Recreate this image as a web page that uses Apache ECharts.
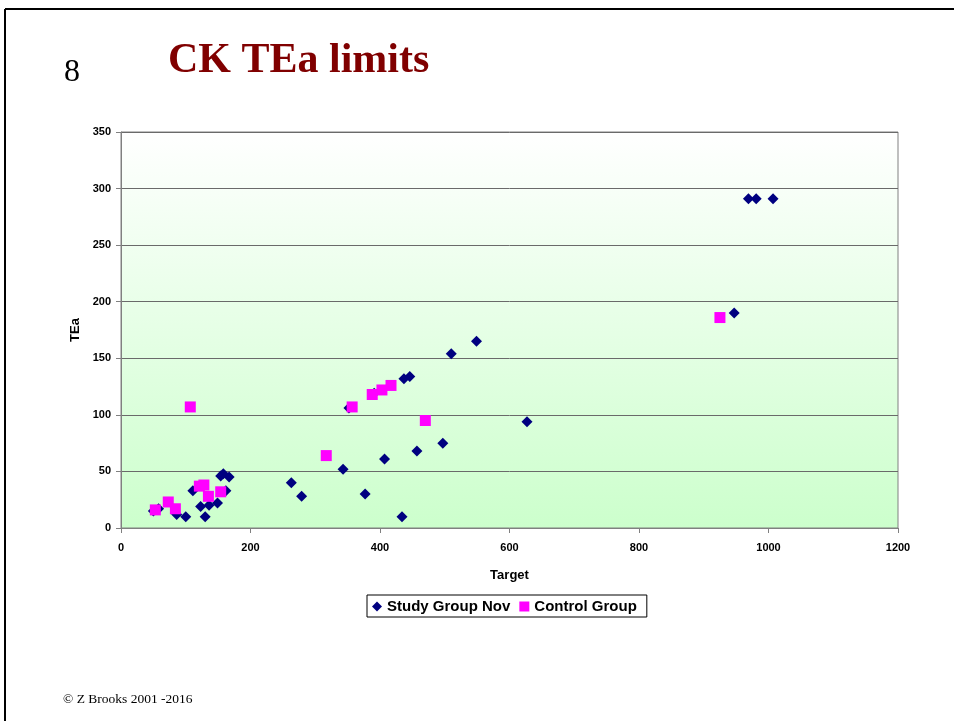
<!DOCTYPE html>
<html>
<head>
    <meta charset="utf-8">
    <title>CK TEa limits</title>
    <script src="https://cdn.jsdelivr.net/npm/echarts@6/dist/echarts.min.js"></script>
    <style>
        html, body { margin: 0; padding: 0; background: #fff; }
        #chart { width: 954px; height: 721px; }
    </style>
</head>
<body>
<div id="chart"></div>
<script type="text/javascript">
    // values: [Target, TEa]
    var studyGroup = [
        [50, 15], [58, 17], [86, 12], [100, 10], [111, 33], [123, 19], [130, 10],
        [136, 20], [149, 22], [154, 46], [158, 48], [162, 33], [167, 45],
        [263, 40], [279, 28], [343, 52], [352, 106], [377, 30], [391, 119],
        [407, 61], [434, 10], [437, 132], [446, 134], [457, 68], [497, 75],
        [510, 154], [549, 165], [627, 94], [947, 190], [969, 291], [981, 291], [1007, 291]
    ];
    var controlGroup = [
        [53, 16], [73, 23], [84, 17], [107, 107], [121, 37], [128, 38], [135, 28],
        [154, 32], [317, 64], [357, 107], [388, 118], [403, 122], [417, 126],
        [470, 95], [925, 186]
    ];
    var seriesNames = ['Study Group Nov', 'Control Group'];

    var myChart = echarts.init(document.getElementById('chart'));
    myChart.setOption({
        animation: false,
        backgroundColor: '#fff',
        textStyle: { fontFamily: 'Liberation Sans, Arial, sans-serif' },
        graphic: [
            // slide frame (top and left)
            { type: 'line', shape: { x1: 5, y1: 9, x2: 954, y2: 9 }, style: { stroke: '#000', lineWidth: 2 } },
            { type: 'line', shape: { x1: 5, y1: 9, x2: 5, y2: 721 }, style: { stroke: '#000', lineWidth: 2 } },
            {
                type: 'text', left: 64, top: 57,
                style: { text: '8', font: '32px "Liberation Serif", serif', fill: '#000' }
            },
            {
                type: 'text', left: 168, top: 40,
                style: { text: 'CK TEa limits', font: 'bold 42px "Liberation Serif", serif', fill: '#800000' }
            },
            {
                type: 'text', left: 63, top: 692,
                style: { text: '\u00a9 Z Brooks 2001 -2016', font: '13.5px "Liberation Serif", serif', fill: '#000' }
            }
        ],
        grid: {
            left: 121, right: 56, top: 132, bottom: 193,
            show: true,
            borderColor: '#808080',
            borderWidth: 1,
            backgroundColor: {
                type: 'linear', x: 0, y: 0, x2: 0, y2: 1,
                colorStops: [
                    { offset: 0, color: '#ffffff' },
                    { offset: 1, color: '#ccffcc' }
                ]
            }
        },
        legend: {
            data: [
                { name: seriesNames[0], icon: 'diamond' },
                { name: seriesNames[1], icon: 'rect' }
            ],
            left: 367, top: 595,
            itemWidth: 10, itemHeight: 10, itemGap: 9,
            padding: [4, 10, 3, 5],
            borderColor: '#000', borderWidth: 1,
            textStyle: { fontSize: 15, fontWeight: 'bold', color: '#000' }
        },
        xAxis: {
            type: 'value', min: 0, max: 1200, interval: 200,
            name: 'Target', nameLocation: 'middle', nameGap: 41,
            nameTextStyle: { fontSize: 13, fontWeight: 'bold', color: '#000' },
            axisLine: { lineStyle: { color: '#808080' } },
            axisTick: { show: true, length: 5, lineStyle: { color: '#808080' } },
            axisLabel: {
                fontSize: 11, fontWeight: 'bold', color: '#000', margin: 14,
                formatter: function (v) { return String(v); }
            },
            splitLine: { show: false }
        },
        yAxis: {
            type: 'value', min: 0, max: 350, interval: 50,
            name: 'TEa', nameLocation: 'middle', nameGap: 33, nameRotate: 90,
            nameTextStyle: { fontSize: 13, fontWeight: 'bold', color: '#000' },
            axisLine: { show: true, lineStyle: { color: '#808080' } },
            axisTick: { show: true, length: 5, lineStyle: { color: '#808080' } },
            axisLabel: { fontSize: 11, fontWeight: 'bold', color: '#000', margin: 10 },
            splitLine: { show: true, lineStyle: { color: '#6a6a6a', width: 1 } }
        },
        series: [
            {
                name: seriesNames[0],
                type: 'scatter',
                symbol: 'diamond',
                symbolSize: 11,
                itemStyle: { color: '#000080', opacity: 1 },
                data: studyGroup,
                z: 2
            },
            {
                name: seriesNames[1],
                type: 'scatter',
                symbol: 'rect',
                symbolSize: 11,
                itemStyle: { color: '#ff00ff', opacity: 1 },
                data: controlGroup,
                z: 3
            }
        ]
    });
</script>
</body>
</html>
